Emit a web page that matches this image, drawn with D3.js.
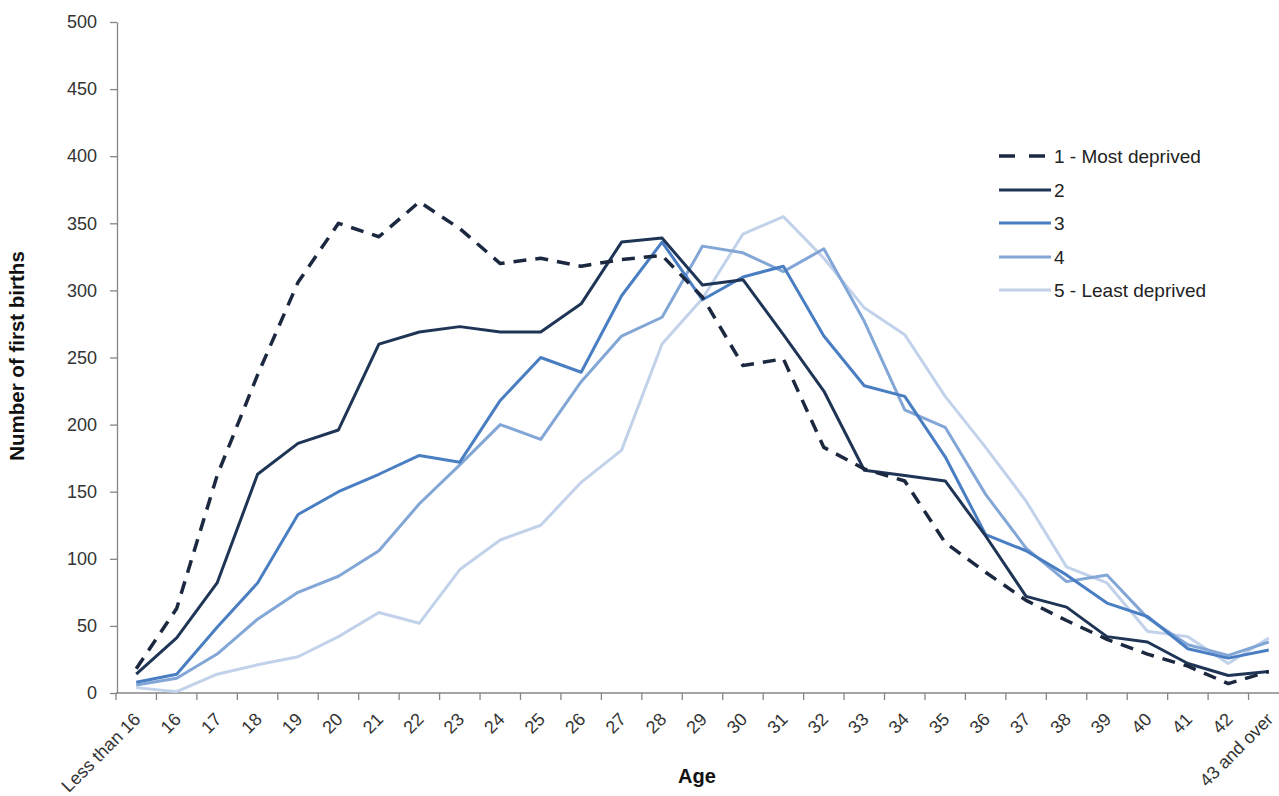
<!DOCTYPE html>
<html>
<head>
<meta charset="utf-8">
<script src="https://cdn.jsdelivr.net/npm/d3@7"></script>
<style>
  html, body { margin: 0; padding: 0; background: #fff; }
  svg { display: block; }
</style>
</head>
<body>
<svg id="chart" width="1279" height="796"></svg>
<script>
const categories = ["Less than 16","16","17","18","19","20","21","22","23","24","25","26","27","28","29","30","31","32","33","34","35","36","37","38","39","40","41","42","43 and over"];
const yTicks = [0,50,100,150,200,250,300,350,400,450,500];
const seriesNames = ["1 - Most deprived","2","3","4","5 - Least deprived"];
const mostDeprived  = [18,63,162,237,306,350,340,366,346,320,324,318,323,326,295,244,249,183,167,158,112,90,69,54,40,29,20,7,16];
const quintile2     = [14,41,82,163,186,196,260,269,273,269,269,290,336,339,304,308,267,225,166,162,158,117,72,64,42,38,22,13,16];
const quintile3     = [8,14,49,82,133,150,163,177,172,218,250,239,296,336,293,310,318,266,229,221,176,118,106,88,67,57,33,26,32];
const quintile4     = [6,11,29,55,75,87,106,141,170,200,189,232,266,280,333,328,314,331,277,211,198,148,108,83,88,56,36,28,38];
const leastDeprived = [4,1,14,21,27,42,60,52,92,114,125,157,181,260,294,342,355,324,287,267,221,183,143,94,82,46,42,22,41];

const seriesValues = [mostDeprived, quintile2, quintile3, quintile4, leastDeprived];
const colors = ["#1b2840", "#1f3556", "#4a7ec2", "#82a6d6", "#c2d2ea"];
const dashes = ["13,9", null, null, null, null];

const svg = d3.select("#chart");
const font = "'Liberation Sans', Arial, sans-serif";

const x = d3.scaleBand().domain(categories).range([116, 1289]).padding(0);
const y = d3.scaleLinear().domain([0, 500]).range([693, 22]);

// Y axis
const yAxis = svg.append("g")
  .attr("transform", "translate(117,0)")
  .call(d3.axisLeft(y).tickValues(yTicks).tickSize(7).tickSizeOuter(0).tickPadding(13));
yAxis.select(".domain").attr("stroke", "#868686").attr("stroke-width", 1.3);
yAxis.selectAll(".tick line").attr("stroke", "#868686").attr("stroke-width", 1.3);
yAxis.selectAll(".tick text").attr("font-family", font).attr("font-size", 18).attr("fill", "#333");

// X axis
const xAxisG = svg.append("g").attr("transform", "translate(0,693)");
xAxisG.append("line")
  .attr("x1", x.range()[0]).attr("x2", x.range()[1])
  .attr("y1", 0).attr("y2", 0)
  .attr("stroke", "#868686").attr("stroke-width", 1.3);
const boundaries = categories.map(c => x(c)).concat([x.range()[1]]);
xAxisG.selectAll("line.tk").data(boundaries).enter().append("line")
  .attr("class", "tk")
  .attr("x1", d => d).attr("x2", d => d)
  .attr("y1", 0).attr("y2", 7)
  .attr("stroke", "#868686").attr("stroke-width", 1.3);
xAxisG.selectAll("text.lbl").data(categories).enter().append("text")
  .attr("class", "lbl")
  .attr("transform", d => `translate(${x(d) + x.bandwidth() / 2 + 1},${23}) rotate(-45)`)
  .attr("text-anchor", "end")
  .attr("dy", "0.35em")
  .attr("font-family", font).attr("font-size", 18).attr("fill", "#333")
  .text(d => d);

// Lines
const line = d3.line()
  .x((d, i) => x(categories[i]) + x.bandwidth() / 2)
  .y(d => y(d));

const order = [4, 3, 2, 1, 0];
order.forEach(k => {
  svg.append("path")
    .datum(seriesValues[k])
    .attr("d", line)
    .attr("fill", "none")
    .attr("stroke", colors[k])
    .attr("stroke-width", k === 0 ? 3.5 : 3)
    .attr("stroke-linejoin", "round")
    .attr("stroke-dasharray", dashes[k]);
});

// Axis titles
svg.append("text")
  .attr("transform", "translate(24,356) rotate(-90)")
  .attr("text-anchor", "middle")
  .attr("font-family", font).attr("font-size", 20.5).attr("font-weight", "bold").attr("fill", "#111")
  .text("Number of first births");
svg.append("text")
  .attr("x", 697).attr("y", 783)
  .attr("text-anchor", "middle")
  .attr("font-family", font).attr("font-size", 20).attr("font-weight", "bold").attr("fill", "#111")
  .text("Age");

// Legend
const legendY = [156, 190, 223, 257, 290];
const lg = svg.append("g");
seriesNames.forEach((name, k) => {
  lg.append("line")
    .attr("x1", 999).attr("x2", 1051)
    .attr("y1", legendY[k]).attr("y2", legendY[k])
    .attr("stroke", colors[k])
    .attr("stroke-width", k === 0 ? 3.5 : 3)
    .attr("stroke-dasharray", k === 0 ? "16,14" : null);
  lg.append("text")
    .attr("x", 1054).attr("y", legendY[k])
    .attr("dy", "0.35em")
    .attr("font-family", font).attr("font-size", 19).attr("fill", "#222")
    .text(name);
});
</script>
</body>
</html>
